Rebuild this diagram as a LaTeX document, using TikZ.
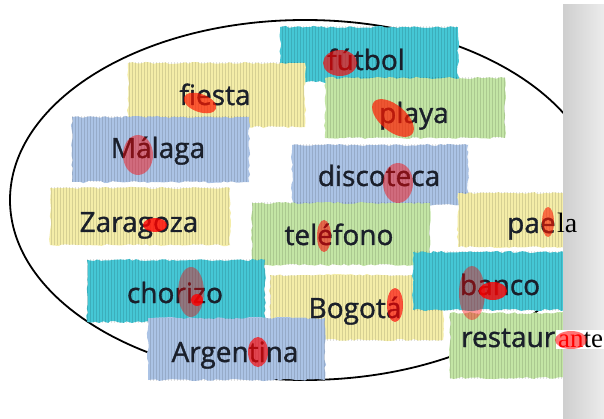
\documentclass[tikz,border=0pt]{standalone}
\usepackage{fontspec}
\setmainfont{Liberation Serif}
\newfontfamily\wordfont{Open Sans}[FakeBold=1.2]
\usetikzlibrary{patterns,decorations.pathmorphing}
\definecolor{stripcyan}{HTML}{45C7D5}
\definecolor{stripyellow}{HTML}{F4EDA8}
\definecolor{stripgreen}{HTML}{C3E5A5}
\definecolor{stripblue}{HTML}{ABC3E5}
\definecolor{ink}{HTML}{1A1F2A}
\tikzset{
  strip/.style={fill=#1, decorate, decoration={random steps, segment length=4pt, amplitude=1.1pt}},
  stripes/.style={pattern=vertical lines, pattern color=black, opacity=0.12},
  word/.style={inner sep=0pt, anchor=base, text=ink, font=\wordfont\fontsize{28}{31}\selectfont},
  blob/.style={fill=red, opacity=#1},
  blob/.default=0.5
}
\begin{document}
\begin{tikzpicture}[x=1pt,y=-1pt]
  \useasboundingbox (0,0) rectangle (604,419);
  \fill[white] (0,0) rectangle (604,419);
  \pgfmathsetseed{7}
  % outline round the words
  \draw[line width=1.8pt] (305,200) ellipse [x radius=295, y radius=180];
  % paper strips, back to front
  \foreach \xa/\ya/\xb/\yb/\c in {
      280/27/458/82/stripcyan, 128/63/305/127/stripyellow, 325/78/505/138/stripgreen,
      72/117/249/182/stripblue, 292/145/468/205/stripblue, 50/188/230/245/stripyellow,
      252/203/430/265/stripgreen, 458/193/566/247/stripyellow, 87/260/265/322/stripcyan,
      270/275/443/340/stripyellow, 413/252/566/310/stripcyan, 148/318/325/380/stripblue,
      450/313/566/378/stripgreen} {
    \fill[strip=\c] (\xa,\ya) rectangle (\xb,\yb);
    \fill[stripes] (\xa,\ya) rectangle (\xb,\yb);
  }
  % page edge
  \shade[left color=gray!38, right color=gray!15] (563,5) rectangle (604,419);
  % words
  \foreach \n/\x/\y/\w in {futbol/366/70/fútbol, fiesta/215/105/fiesta, playa/414/123/playa,
      malaga/158/158/Málaga, discoteca/379/186/discoteca, zaragoza/139/232/Zaragoza,
      telefono/339/245/teléfono, chorizo/175/303/chorizo, bogota/355/318/Bogotá,
      banco/500/295/banco, argentina/235/362/Argentina} {
    \node[word] (\n) at (\x,\y) {\w};
  }
  \node[word, anchor=base west] (paella) at (507,233) {pae};
  \node[inner sep=0pt, anchor=base west, font=\fontsize{28}{31}\selectfont] (paella-end) at (557,233) {la};
  \node[word, anchor=base west] (restaurante) at (461,347) {restaur};
  \node[fill=white, inner sep=2pt, anchor=base west, font=\fontsize{27}{30}\selectfont] (restaurante-end) at (556,347) {\textcolor{red}{an}te};
  % marker blobs
  \fill[blob=0.65] (340,63) ellipse [x radius=17, y radius=13];
  \fill[blob=0.7, red!80!orange, rotate around={-20:(200,103)}] (200,103) ellipse [x radius=17, y radius=9];
  \fill[blob=0.45] (138,155) ellipse [x radius=15, y radius=20];
  \fill[blob=0.7, red!80!orange, rotate around={-40:(393,118)}] (393,118) ellipse [x radius=25, y radius=13];
  \fill[blob=0.45] (398,183) ellipse [x radius=15, y radius=20];
  \fill[blob=0.8] (155,225) ellipse [x radius=12, y radius=7];
  \fill[blob=0.55] (324,236) ellipse [x radius=7, y radius=16];
  \fill[blob=0.6, red!80!orange] (548,222) ellipse [x radius=6, y radius=15];
  \fill[blob=0.4] (191,292) ellipse [x radius=13, y radius=25];
  \fill[blob=0.8] (197,300) circle (6);
  \fill[blob=0.65] (395,305) ellipse [x radius=8, y radius=17];
  \fill[blob=0.4] (472,293) ellipse [x radius=13, y radius=27];
  \fill[blob=0.8] (493,291) ellipse [x radius=14, y radius=9];
  \fill[blob=0.65] (258,352) ellipse [x radius=10, y radius=15];
  \fill[blob=0.55] (571,340) ellipse [x radius=16, y radius=9];
\end{tikzpicture}
\end{document}
